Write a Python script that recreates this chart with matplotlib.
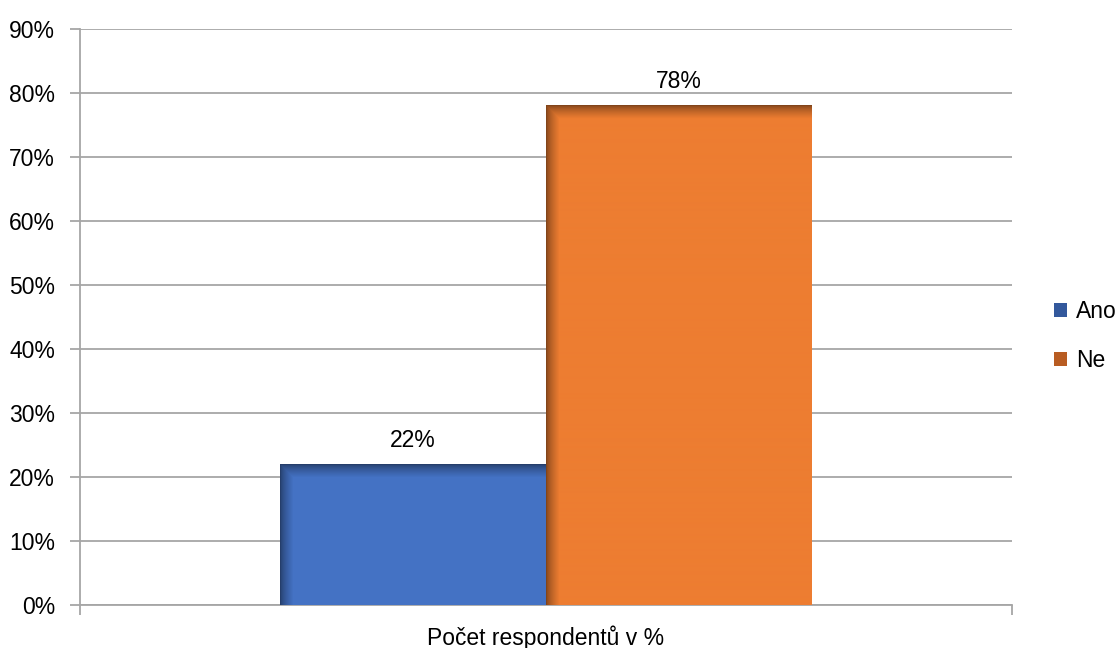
import numpy as np
import matplotlib
matplotlib.use("Agg")
import matplotlib.pyplot as plt
from matplotlib.patches import Patch
from matplotlib.colors import to_rgb

plt.rcParams["font.family"] = ["Liberation Sans", "DejaVu Sans"]

# data
series = ["Ano", "Ne"]
values = [22, 78]
colors = ["#4472C4", "#ED7D31"]
legend_colors = ["#33589c", "#b85c22"]
category = "Počet respondentů v %"
yticks = list(range(0, 91, 10))

W, H, DPI = 1119, 648, 100
fig = plt.figure(figsize=(W / DPI, H / DPI), dpi=DPI)
ax = fig.add_axes([80 / W, 1 - 605 / H, 932 / W, 576 / H])

bw = 0.2854
xs = [-bw / 2, bw / 2]
ax.set_xlim(-0.5, 0.5)
ax.set_ylim(0, 90)

# px per data unit, for the bevel shading
px_x = 932 / 1.0
px_y = 576 / 90.0
shade = 13  # px


def shaded_bar(x, h, c):
    w_px = int(round(bw * px_x))
    h_px = max(int(round(h * px_y)), 1)
    base = np.array(to_rgb(c))
    img = np.ones((h_px, w_px, 3)) * base
    xx = np.arange(w_px)[None, :]
    yy = np.arange(h_px)[:, None]
    d = np.minimum(xx, yy).astype(float)
    f = np.clip(d / shade, 0, 1)
    f = 0.55 + 0.45 * f ** 0.7
    img = img * f[..., None]
    ax.imshow(img, extent=[x - bw / 2, x + bw / 2, 0, h], aspect="auto",
              interpolation="bilinear", zorder=3, origin="upper")


for x, v, c in zip(xs, values, colors):
    shaded_bar(x, v, c)
    ax.annotate(f"{v}%", (x, v), xytext=(0, 9), textcoords="offset points",
                ha="center", va="bottom", fontsize=16.5, color="#000000", zorder=4)

ax.set_yticks(yticks)
ax.set_yticklabels([f"{t}%" for t in yticks], fontsize=16.5)
ax.set_xticks([-0.5, 0.5])
ax.set_xticklabels(["", ""])
ax.tick_params(axis="y", length=7, color="#a6a6a6", width=1.3, pad=11)
ax.tick_params(axis="x", length=7, color="#a6a6a6", width=1.3)
ax.grid(axis="y", color="#a6a6a6", lw=1.3, zorder=0)
ax.set_axisbelow(True)
for s in ["top", "right"]:
    ax.spines[s].set_visible(False)
for s in ["left", "bottom"]:
    ax.spines[s].set_color("#a6a6a6")
    ax.spines[s].set_linewidth(1.3)
fig.text(546 / W, 1 - 645 / H, category, fontsize=16.5, ha="center", va="baseline")

handles = [Patch(facecolor=c, edgecolor="none") for c in legend_colors]
fig.legend(handles, series, loc="center left", bbox_to_anchor=(1045 / W, 1 - 336 / H),
           frameon=False, fontsize=16.5, handlelength=0.55, handleheight=0.55,
           handletextpad=0.4, labelspacing=1.15, borderaxespad=0)

fig.savefig("out.png", dpi=DPI)
